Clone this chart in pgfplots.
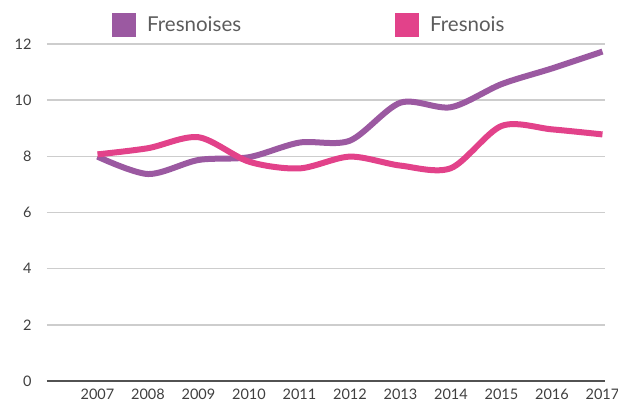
\documentclass[border=0pt]{standalone}
\usepackage{pgfplots}
\pgfplotsset{compat=1.18}
\usepackage{fontspec}
\setmainfont{Lato}
\definecolor{cpurple}{HTML}{9B59A1}
\definecolor{cpink}{HTML}{E2428A}
\definecolor{ctext}{HTML}{3F3F3F}
\definecolor{cgrid}{HTML}{CDCDCD}
\begin{document}
\begin{tikzpicture}
\begin{axis}[
  name=ax,
  scale only axis,
  width=558bp, height=337bp,
  xmin=2006, xmax=2017.05,
  ymin=0, ymax=12,
  xtick={2007,...,2017},
  ytick={0,2,...,12},
  xticklabel style={/pgf/number format/1000 sep={}, yshift=-4bp},
  /pgf/number format/assume math mode=true,
  tick style={draw=none},
  ticklabel style={font=\fontsize{14.5bp}{17bp}\selectfont, text=ctext},
  yticklabel style={xshift=-12bp},
  axis line style={draw=none},
  ymajorgrids,
  grid style={cgrid, line width=1.4bp},
  clip=false,
  legend columns=2,
  legend style={
    at={(rel axis cs:0.1165,1.0564)}, anchor=west,
    draw=none, fill=none, inner sep=0pt,
    font=\fontsize{20.5bp}{22bp}\selectfont,
    text=ctext!85,
    nodes={inner sep=0pt, text width=248bp, align=left},
    /tikz/every odd column/.append style={column sep=11bp},
    /tikz/every even column/.append style={column sep=0bp},
  },
  legend image code/.code={\fill (0bp,-9bp) rectangle (18bp,9bp);},
]
\draw[color=ctext!90, line width=2bp] (axis cs:2006,0) -- (axis cs:2017.05,0);
\addplot[cpurple, line width=6bp, smooth, tension=0.5] coordinates {
(2007,7.99) (2008,7.37) (2009,7.87) (2010,7.97) (2011,8.49) (2012,8.56)
(2013,9.91) (2014,9.75) (2015,10.57) (2016,11.13) (2017,11.73)};
\addlegendentry{Fresnoises}
\addplot[cpink, line width=6bp, smooth, tension=0.5] coordinates {
(2007,8.07) (2008,8.29) (2009,8.68) (2010,7.81) (2011,7.57) (2012,7.99)
(2013,7.67) (2014,7.58) (2015,9.08) (2016,8.96) (2017,8.78)};
\addlegendentry{Fresnois}
\end{axis}
\pgfresetboundingbox
\path[use as bounding box] ([shift={(-47bp,-24bp)}]ax.south west) rectangle ([shift={(13bp,44bp)}]ax.north east);
\end{tikzpicture}
\end{document}
